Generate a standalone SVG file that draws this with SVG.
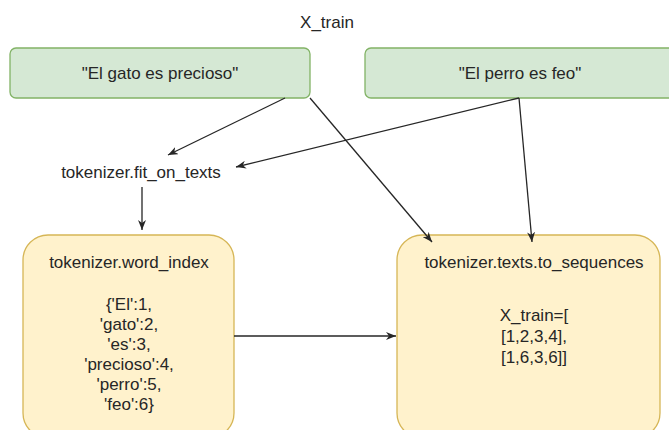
<svg xmlns="http://www.w3.org/2000/svg" width="669" height="430" viewBox="0 0 669 430">
  <style>
    text { font-family: "Liberation Sans", Arial, sans-serif; font-size: 17px; fill: #262626; text-anchor: middle; dominant-baseline: central; }
    .green { fill: #d5e8d4; stroke: #82b366; stroke-width: 1.3; }
    .yellow { fill: #fff2cc; stroke: #d6b656; stroke-width: 1.3; }
    .edge { fill: none; stroke: #262626; stroke-width: 1.3; marker-end: url(#arrow); }
  </style>
  <defs>
    <marker id="arrow" viewBox="0 0 10 8" refX="10" refY="4" markerWidth="10" markerHeight="8" markerUnits="userSpaceOnUse" orient="auto">
      <path d="M0,0 L10,4 L0,8 L3,4 Z" fill="#262626"/>
    </marker>
  </defs>
  <rect width="669" height="430" fill="#ffffff"/>

  <g id="title">
    <text x="327" y="22">X_train</text>
  </g>

  <g id="sentence-gato">
    <rect class="green" x="10" y="48" width="300" height="50" rx="6"/>
    <text x="160" y="73">"El gato es precioso"</text>
  </g>

  <g id="sentence-perro">
    <rect class="green" x="365" y="48" width="310" height="50" rx="6"/>
    <text x="520" y="73">"El perro es feo"</text>
  </g>

  <g id="fit-on-texts">
    <text x="141" y="172">tokenizer.fit_on_texts</text>
  </g>

  <g id="word-index">
    <rect class="yellow" x="23" y="235" width="211" height="203" rx="25"/>
    <text x="129" y="262">tokenizer.word_index</text>
    <text x="129" y="304">{'El':1,</text>
    <text x="129" y="324">'gato':2,</text>
    <text x="129" y="344">'es':3,</text>
    <text x="129" y="364">'precioso':4,</text>
    <text x="129" y="384">'perro':5,</text>
    <text x="129" y="404">'feo':6}</text>
  </g>

  <g id="texts-to-sequences">
    <rect class="yellow" x="397" y="235" width="263" height="203" rx="25"/>
    <text x="534" y="262">tokenizer.texts.to_sequences</text>
    <text x="534" y="315">X_train=[</text>
    <text x="534" y="336">[1,2,3,4],</text>
    <text x="534" y="357">[1,6,3,6]]</text>
  </g>

  <g id="connectors">
    <path class="edge" d="M285,98 L168,155"/>
    <path class="edge" d="M519,98 L236,167"/>
    <path class="edge" d="M142,187 L142,230"/>
    <path class="edge" d="M310,98 L432,242"/>
    <path class="edge" d="M519,98 L532,242"/>
    <path class="edge" d="M234,336 L396,336"/>
  </g>
</svg>
